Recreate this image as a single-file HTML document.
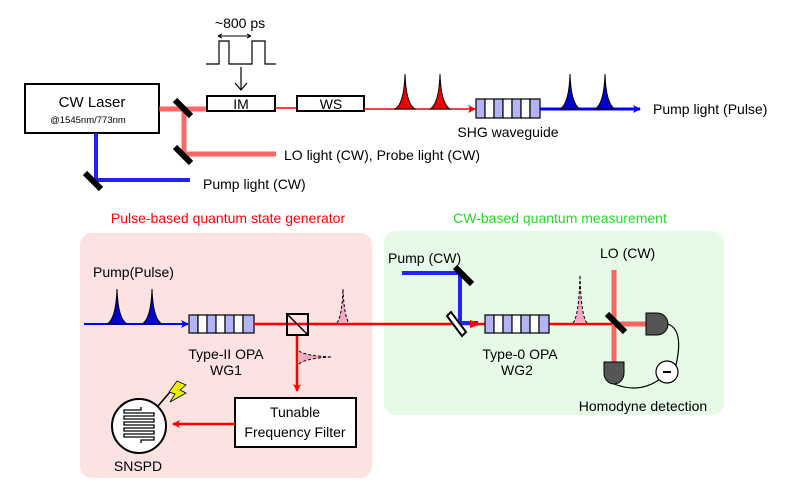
<!DOCTYPE html>
<html><head><meta charset="utf-8"><style>
body{margin:0;background:#fff}
svg{display:block;font-family:"Liberation Sans",sans-serif}
</style></head><body>
<svg width="793" height="502" viewBox="0 0 793 502">
<defs>
<marker id="ar" markerWidth="8" markerHeight="8" refX="7" refY="4" orient="auto" markerUnits="userSpaceOnUse"><path d="M0,0 L8,4 L0,8 L2,4Z" fill="#f00"/></marker>
<marker id="ab" markerWidth="8" markerHeight="8" refX="7" refY="4" orient="auto" markerUnits="userSpaceOnUse"><path d="M0,0 L8,4 L0,8 L2,4Z" fill="#00f"/></marker>
</defs>
<rect x="25" y="84" width="134" height="49" fill="#fff" stroke="#000" stroke-width="2"/>
<text x="92" y="107" font-size="15" text-anchor="middle">CW Laser</text>
<text x="88" y="123" font-size="9.5" text-anchor="middle">@1545nm/773nm</text>
<path d="M159,109 H207 M184,109 V154 H276" stroke="#f33" stroke-width="5" fill="none" opacity="0.75"/>
<path d="M96,133 V180 H190" stroke="#22f" stroke-width="4" fill="none"/>
<line x1="175" y1="100" x2="191" y2="116" stroke="#000" stroke-width="6"/>
<line x1="175" y1="147" x2="191" y2="163" stroke="#000" stroke-width="6"/>
<line x1="85" y1="173" x2="101" y2="189" stroke="#000" stroke-width="6"/>
<text x="284" y="160" font-size="14">LO light (CW), Probe light (CW)</text>
<text x="203" y="189" font-size="14">Pump light (CW)</text>
<rect x="207" y="96" width="68" height="15" fill="#fff" stroke="#000" stroke-width="2"/>
<text x="241" y="109" font-size="14" text-anchor="middle">IM</text>
<line x1="275" y1="108" x2="297" y2="108" stroke="#f00" stroke-width="1.5"/>
<rect x="297" y="96" width="67" height="15" fill="#fff" stroke="#000" stroke-width="2"/>
<text x="331" y="109" font-size="14" text-anchor="middle">WS</text>
<path d="M206,64 H219 V41 H229 V64 H252 V41 H265 V64 H276" stroke="#000" stroke-width="1.2" fill="none"/>
<path d="M218,36 H251 M218,36 l4,-2 M218,36 l4,2 M251,36 l-4,-2 M251,36 l-4,2" stroke="#000" fill="none"/>
<text x="240" y="28" font-size="14" text-anchor="middle">~800 ps</text>
<path d="M241,67 V90 M235,83 L241,90 L247,83" stroke="#000" stroke-width="1.2" fill="none"/>
<line x1="364" y1="109" x2="475" y2="109" stroke="#f00" stroke-width="1.5" marker-end="url(#ar)"/>
<path d="M395,109 Q404,104 405,74 Q406,104 415,109Z M430,109 Q439,104 440,74 Q441,104 450,109Z" fill="#e00" stroke="#000" stroke-width="1"/>
<g stroke="#000" stroke-width="1.2">
<rect x="476" y="99" width="9" height="19" fill="#b3b3f5"/><rect x="485" y="99" width="9" height="19" fill="#fff"/><rect x="494" y="99" width="9" height="19" fill="#b3b3f5"/><rect x="503" y="99" width="9" height="19" fill="#fff"/><rect x="512" y="99" width="9" height="19" fill="#b3b3f5"/><rect x="521" y="99" width="9" height="19" fill="#fff"/><rect x="530" y="99" width="10" height="19" fill="#b3b3f5"/>
</g>
<text x="508" y="137" font-size="14" text-anchor="middle">SHG waveguide</text>
<line x1="540" y1="109" x2="640" y2="109" stroke="#00f" stroke-width="3" marker-end="url(#ab)"/>
<path d="M560,109 Q569,104 570,74 Q571,104 580,109Z M595,109 Q604,104 605,74 Q606,104 615,109Z" fill="#00c" stroke="#000" stroke-width="1"/>
<text x="653" y="114" font-size="14">Pump light (Pulse)</text>
<rect x="80" y="233" width="292" height="245" rx="12" fill="#fde2e2"/>
<text x="228" y="223" font-size="14" fill="#f00" text-anchor="middle">Pulse-based quantum state generator</text>
<rect x="384" y="231" width="340" height="184" rx="12" fill="#e5fbe5"/>
<text x="560" y="223" font-size="14" fill="#2d2" text-anchor="middle">CW-based quantum measurement</text>
<text x="93" y="277" font-size="14">Pump(Pulse)</text>
<line x1="84" y1="324" x2="188" y2="324" stroke="#00f" stroke-width="2" marker-end="url(#ab)"/>
<path d="M107,324 Q116,319 117,289 Q118,319 127,324Z M142,324 Q151,319 152,289 Q153,319 162,324Z" fill="#00c" stroke="#000" stroke-width="1"/>
<g stroke="#000" stroke-width="1.2">
<rect x="189" y="315" width="9" height="18" fill="#b3b3f5"/><rect x="198" y="315" width="9" height="18" fill="#fff"/><rect x="207" y="315" width="9" height="18" fill="#b3b3f5"/><rect x="216" y="315" width="9" height="18" fill="#fff"/><rect x="225" y="315" width="9" height="18" fill="#b3b3f5"/><rect x="234" y="315" width="9" height="18" fill="#fff"/><rect x="243" y="315" width="11" height="18" fill="#b3b3f5"/>
</g>
<text x="226" y="359" font-size="14" text-anchor="middle">Type-II  OPA</text>
<text x="226" y="375" font-size="14" text-anchor="middle">WG1</text>
<line x1="254" y1="324" x2="612" y2="324" stroke="#f00" stroke-width="2.5"/>
<line x1="297" y1="336" x2="297" y2="391" stroke="#f00" stroke-width="2.5" marker-end="url(#ar)"/>
<rect x="287" y="314" width="21" height="21" fill="none" stroke="#000" stroke-width="2"/>
<line x1="287" y1="314" x2="308" y2="335" stroke="#000" stroke-width="1.5"/>
<path d="M337,323 Q342,316 343,289 Q344,316 349,323Z" fill="#f7a6c6"/>
<path d="M337,323 Q342,316 343,289 Q344,316 349,323" fill="none" stroke="#000" stroke-dasharray="3,2"/>
<path d="M299,351 Q306,356 332,357 Q306,358 299,364Z" fill="#f7a6c6"/>
<path d="M299,351 Q306,356 332,357 Q306,358 299,364" fill="none" stroke="#000" stroke-dasharray="3,2"/>
<rect x="235" y="398" width="121" height="49" fill="#fff" stroke="#000" stroke-width="2"/>
<text x="295" y="417" font-size="14" text-anchor="middle">Tunable</text>
<text x="295" y="437" font-size="14" text-anchor="middle">Frequency Filter</text>
<line x1="235" y1="424" x2="173" y2="424" stroke="#f00" stroke-width="2.5" marker-end="url(#ar)"/>
<circle cx="139" cy="426" r="27" fill="#fff" stroke="#000" stroke-width="2"/>
<path d="M141,407 V410 H124 V413 H154 V416 H124 V419 H154 V422 H124 V425 H154 V428 H124 V431 H154 V434 H124 V437 H154 V440 H141 V443" fill="none" stroke="#000" stroke-width="1.3"/>
<line x1="158" y1="406" x2="170" y2="392" stroke="#000" stroke-width="1.5"/>
<path d="M177,381 L186,385 L180,390 L186,393 L170,402 L175,394 L169,392 Z" fill="#ee0" stroke="#000" stroke-width="0.8"/>
<text x="138" y="471" font-size="14" text-anchor="middle">SNSPD</text>
<text x="388" y="263" font-size="14">Pump (CW)</text>
<path d="M402,273 H460 V323 H478" stroke="#22f" stroke-width="4" fill="none"/>
<path d="M470,320 L482,324 L470,328 Z" fill="#f00"/>
<line x1="455" y1="267" x2="472" y2="284" stroke="#000" stroke-width="6"/>
<polygon points="451,312 447,316 462,336 466,332" fill="#fff" stroke="#000" stroke-width="2"/>
<g stroke="#000" stroke-width="1.2">
<rect x="485" y="315" width="9" height="18" fill="#b3b3f5"/><rect x="494" y="315" width="9" height="18" fill="#fff"/><rect x="503" y="315" width="9" height="18" fill="#b3b3f5"/><rect x="512" y="315" width="9" height="18" fill="#fff"/><rect x="521" y="315" width="9" height="18" fill="#b3b3f5"/><rect x="530" y="315" width="9" height="18" fill="#fff"/><rect x="539" y="315" width="10" height="18" fill="#b3b3f5"/>
</g>
<text x="520" y="359" font-size="14" text-anchor="middle">Type-0 OPA</text>
<text x="517" y="375" font-size="14" text-anchor="middle">WG2</text>
<path d="M573,323 Q579,316 580,275 Q581,316 587,323Z" fill="#f7a6c6"/>
<path d="M573,323 Q579,316 580,275 Q581,316 587,323" fill="none" stroke="#000" stroke-dasharray="3,2"/>
<text x="600" y="258" font-size="14">LO (CW)</text>
<path d="M614,270 V363 M614,324 H646" stroke="#f33" stroke-width="5" fill="none" opacity="0.75"/>
<line x1="607" y1="314" x2="625" y2="332" stroke="#000" stroke-width="6"/>
<path d="M646,313 H657 A11,11 0 0 1 657,335 H646 Z" fill="#555" stroke="#000"/>
<path d="M604,362 V373 A10,11 0 0 0 624,373 V362 Z" fill="#555" stroke="#000"/>
<path d="M668,324 Q684,330 676,365 M614,384 Q640,394 660,379" fill="none" stroke="#000" stroke-width="1.2"/>
<circle cx="667" cy="372" r="11" fill="#fff" stroke="#000" stroke-width="1.2"/>
<line x1="663" y1="372" x2="671" y2="372" stroke="#000" stroke-width="2"/>
<text x="643" y="411" font-size="14" text-anchor="middle">Homodyne detection</text>
</svg>
</body></html>
